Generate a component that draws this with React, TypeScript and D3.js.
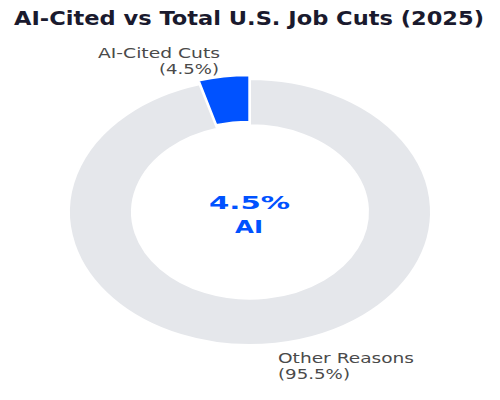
import React from "react";
import * as d3 from "d3";

const title = "AI-Cited vs Total U.S. Job Cuts (2025)";
const categories = ["AI-Cited Cuts", "Other Reasons"];
const values = [4.5, 95.5];
const sliceColors = ["#0052FF", "#E5E7EB"];
const centerLines = ["4.5%", "AI"];

const W = 500;
const H = 400;
const cx = 250;
const cy = 212;
const outerR = 181;
const innerR = 118;
const yScale = 133 / 181;
const explode = [5, 0];

export default function App() {
  const pie = d3
    .pie<number>()
    .sort(null)
    .startAngle(0)
    .endAngle(-2 * Math.PI)
    .value((d) => d);
  const arcs = pie(values);
  const arc = d3.arc<d3.PieArcDatum<number>>().innerRadius(innerR).outerRadius(outerR);
  const total = d3.sum(values);
  const pct = values.map((v) => ((v / total) * 100).toFixed(1) + "%");

  return (
    <svg
      width={W}
      height={H}
      style={{ position: "absolute", left: 0, top: 0, background: "#fff" }}
      fontFamily="DejaVu Sans"
    >
      <rect width={W} height={H} fill="#fff" />
      <text
        x={14}
        y={24.5}
        fontSize={19}
        fontWeight="bold"
        fill="#1a1a2e"
        textLength={470}
        lengthAdjust="spacingAndGlyphs"
      >
        {title}
      </text>
      <g transform={`translate(${cx},${cy}) scale(1,${yScale})`}>
        {arcs.map((a, i) => {
          const mid = (a.startAngle + a.endAngle) / 2;
          const dx = Math.sin(mid) * explode[i];
          const dy = -Math.cos(mid) * explode[i];
          return (
            <path
              key={i}
              d={arc(a) || ""}
              transform={`translate(${dx},${dy})`}
              fill={sliceColors[i]}
              stroke="#fff"
              strokeWidth={2}
              vectorEffect="non-scaling-stroke"
            />
          );
        })}
      </g>
      <g fill="#4a4a4a" fontSize={13.7}>
        <text x={220} y={58} textAnchor="end" textLength={122} lengthAdjust="spacingAndGlyphs">
          {categories[0]}
        </text>
        <text x={219} y={74} textAnchor="end" textLength={60} lengthAdjust="spacingAndGlyphs">
          {`(${pct[0]})`}
        </text>
        <text x={278} y={363} textLength={136} lengthAdjust="spacingAndGlyphs">
          {categories[1]}
        </text>
        <text x={278} y={379} textLength={72} lengthAdjust="spacingAndGlyphs">
          {`(${pct[1]})`}
        </text>
      </g>
      <g fill="#0052FF" fontWeight="bold" fontSize={18}>
        <text x={249.5} y={209} textAnchor="middle" textLength={81} lengthAdjust="spacingAndGlyphs">
          {centerLines[0]}
        </text>
        <text x={249} y={233} textAnchor="middle" textLength={28} lengthAdjust="spacingAndGlyphs">
          {centerLines[1]}
        </text>
      </g>
    </svg>
  );
}
